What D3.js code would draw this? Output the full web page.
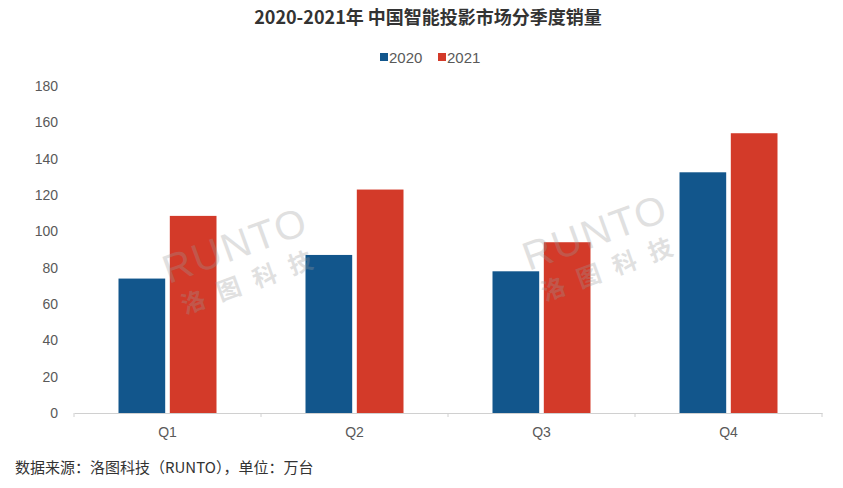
<!DOCTYPE html>
<html><head><meta charset="utf-8">
<script src="https://cdn.jsdelivr.net/npm/d3@7"></script>
<style>body{margin:0;background:#fff;}svg{display:block;font-family:"Noto Sans CJK SC","Liberation Sans",sans-serif;}</style>
</head><body>
<svg id="c" width="843" height="488"></svg>
<script>
const categories = ["Q1","Q2","Q3","Q4"];
const seriesNames = ["2020","2021"];
const values2020 = [74, 87, 78, 132.5];
const values2021 = [108.5, 123, 94, 154];
const yTicks = [0,20,40,60,80,100,120,140,160,180];
const colors = ["#12568c","#d33a29"];
const title = "2020-2021年 中国智能投影市场分季度销量";
const footer = "数据来源：洛图科技（RUNTO），单位：万台";

const svg = d3.select("#c");
const x = d3.scaleBand().domain(categories).range([74,822]);
const y = d3.scaleLinear().domain([0,180]).range([413,86]);
const xs = d3.scaleBand().domain(seriesNames).range([0,98]).paddingInner(0.09);

svg.append("text").attr("x",428).attr("y",24).attr("text-anchor","middle")
  .attr("font-size",18).attr("font-weight","bold").attr("fill","#333").text(title);

// legend
const lg = svg.append("g");
const legX = [380, 438];
seriesNames.forEach((s,i)=>{
  lg.append("rect").attr("x",legX[i]).attr("y",53).attr("width",8).attr("height",8).attr("fill",colors[i]);
  lg.append("text").attr("x",legX[i]+9).attr("y",63).attr("font-size",15).attr("fill","#595959")
    .attr("font-family","Liberation Sans, sans-serif").text(s);
});

// y axis labels
svg.append("g").selectAll("text").data(yTicks).join("text")
  .attr("x",58).attr("y",d=>y(d)+5).attr("text-anchor","end")
  .attr("font-size",14).attr("fill","#595959").attr("font-family","Liberation Sans, sans-serif")
  .text(d=>d);

// bars
const data = [values2020, values2021];
categories.forEach((c,ci)=>{
  const cx = x(c) + x.bandwidth()/2 - 49;
  seriesNames.forEach((s,si)=>{
    svg.append("rect").attr("x",cx+xs(s)).attr("width",xs.bandwidth())
      .attr("y",y(data[si][ci])).attr("height",y(0)-y(data[si][ci])).attr("fill",colors[si]);
  });
});

// x axis
const xa = svg.append("g").attr("transform","translate(0,413)")
  .call(d3.axisBottom(x).tickSize(0).tickPadding(14));
xa.select(".domain").attr("stroke","#d0d0d0");
xa.selectAll("text").attr("font-size",14).attr("fill","#595959").attr("font-family","Liberation Sans, sans-serif");
const bounds = categories.map(c=>x(c)).concat([x.range()[1]]);
xa.selectAll(".bt").data(bounds).join("line").attr("x1",d=>d).attr("x2",d=>d).attr("y1",0).attr("y2",4).attr("stroke","#d0d0d0");

// watermarks
[[240,258],[600,245]].forEach(p=>{
  const g = svg.append("g").attr("transform",`translate(${p[0]},${p[1]}) rotate(-20)`).attr("opacity",0.3);
  g.append("text").attr("x",0).attr("y",0).attr("text-anchor","middle").attr("font-size",40)
    .attr("fill","#9a9a9a").attr("font-family","Liberation Sans, sans-serif").attr("letter-spacing",2).text("RUNTO");
  g.append("text").attr("x",5).attr("y",34).attr("text-anchor","middle").attr("font-size",24)
    .attr("fill","#9a9a9a").attr("font-weight","bold").attr("letter-spacing",14).text("洛图科技");
});

svg.append("text").attr("x",15).attr("y",473).attr("font-size",15).attr("fill","#333").text(footer);
</script>
</body></html>
